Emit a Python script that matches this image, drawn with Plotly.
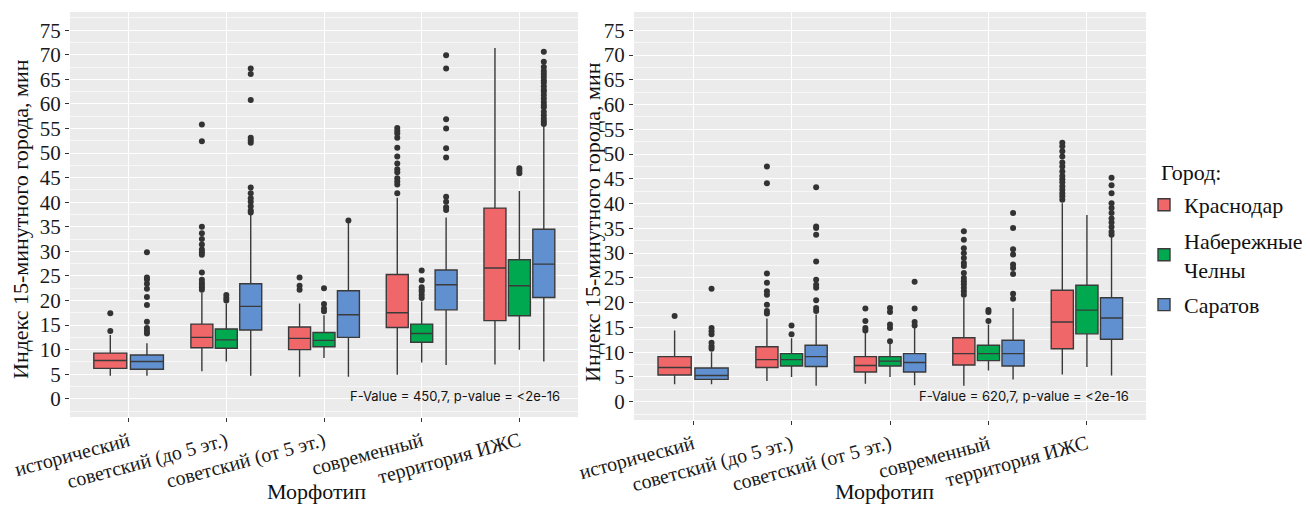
import plotly.graph_objects as go

categories = ["исторический", "советский (до 5 эт.)", "советский (от 5 эт.)", "современный", "территория ИЖС"]
cities = ["Краснодар", "Набережные Челны", "Саратов"]
legend_names = ["Краснодар", "Набережные<br>Челны", "Саратов"]
colors = ["#F0676A", "#00A84F", "#6190D0"]
y_ticks = list(range(0, 80, 5))

# ---------- left panel (stats per category; None = no data) ----------
L_q1 = {
    "Краснодар":        [6.2, 10.4, 10.0, 14.5, 15.9],
    "Набережные Челны": [None, 10.3, 10.6, 11.5, 16.9],
    "Саратов":          [6.0, 14.0, 12.5, 18.1, 20.6],
}
L_med = {
    "Краснодар":        [7.8, 12.5, 12.3, 17.5, 26.6],
    "Набережные Челны": [None, 12.0, 11.9, 13.3, 23.0],
    "Саратов":          [7.6, 18.8, 17.1, 23.2, 27.4],
}
L_q3 = {
    "Краснодар":        [9.3, 15.2, 14.6, 25.3, 38.8],
    "Набережные Челны": [None, 14.2, 13.5, 15.2, 28.3],
    "Саратов":          [8.9, 23.4, 22.0, 26.2, 34.5],
}
L_lo = {
    "Краснодар":        [4.7, 5.6, 4.5, 4.9, 7.0],
    "Набережные Челны": [None, 7.6, 8.3, 7.4, 10.0],
    "Саратов":          [4.7, 4.7, 4.5, 6.9, 7.6],
}
L_hi = {
    "Краснодар":        [13.0, 21.6, 19.4, 40.9, 71.4],
    "Набережные Челны": [None, 19.4, 17.0, 19.8, 42.3],
    "Саратов":          [11.3, 37.4, 35.8, 36.9, 55.4],
}
L_out = {
    "Краснодар": [
        [13.8, 17.4],
        [22.2, 22.7, 23.2, 23.6, 24.2, 25.7, 29.3, 29.8, 30.4, 31.4, 32.5, 33.7, 35.0, 52.4, 55.8],
        [22.2, 23.0, 24.7],
        [41.8, 43.6, 44.2, 44.9, 46.1, 46.7, 47.9, 49.3, 51.1, 53.1, 54.0, 54.5, 55.1],
        [],
    ],
    "Набережные Челны": [
        None,
        [20.0, 20.5, 21.1],
        [17.8, 18.4, 19.3, 22.5],
        [20.5, 21.1, 21.8, 22.2, 22.7, 24.1, 26.1],
        [45.9, 46.4, 46.9],
    ],
    "Саратов": [
        [13.3, 13.8, 14.4, 15.7, 19.1, 20.7, 22.4, 23.4, 24.3, 24.7, 29.8],
        [37.9, 38.3, 39.2, 40.1, 40.8, 41.8, 43.0, 52.1, 52.6, 53.1, 60.8, 66.1, 67.2],
        [36.3],
        [38.4, 39.0, 40.1, 41.1, 49.1, 51.0, 55.0, 56.9, 67.2, 69.9],
        [55.9, 56.4, 57.0, 57.7, 58.4, 59.3, 59.8, 60.4, 61.1, 61.8, 62.5, 62.9, 63.6,
         64.3, 64.8, 65.5, 66.1, 66.7, 67.5, 68.6, 70.6],
    ],
}

# ---------- right panel ----------
R_q1 = {
    "Краснодар":        [5.4, 6.9, 6.0, 7.4, 10.7],
    "Набережные Челны": [None, 7.2, 7.2, 8.3, 13.7],
    "Саратов":          [4.5, 7.1, 6.0, 7.2, 12.6],
}
R_med = {
    "Краснодар":        [6.9, 8.5, 7.3, 9.7, 16.1],
    "Набережные Челны": [None, 8.5, 8.2, 9.7, 18.5],
    "Саратов":          [5.3, 9.1, 7.9, 9.7, 16.9],
}
R_q3 = {
    "Краснодар":        [9.1, 11.1, 9.1, 12.9, 22.5],
    "Набережные Челны": [None, 9.7, 9.1, 11.4, 23.5],
    "Саратов":          [6.8, 11.4, 9.7, 12.4, 21.0],
}
R_lo = {
    "Краснодар":        [3.5, 4.2, 3.6, 3.2, 5.5],
    "Набережные Челны": [None, 5.0, 5.0, 6.3, 7.0],
    "Саратов":          [3.5, 3.2, 3.3, 4.5, 5.3],
}
R_hi = {
    "Краснодар":        [14.4, 16.8, 13.9, 21.0, 40.1],
    "Набережные Челны": [None, 12.8, 11.9, 15.6, 37.7],
    "Саратов":          [10.0, 17.6, 14.9, 18.9, 33.3],
}
R_out = {
    "Краснодар": [
        [17.3],
        [17.8, 18.3, 19.6, 21.6, 22.3, 24.0, 25.9, 44.1, 47.5],
        [14.4, 14.9, 16.3, 18.8],
        [21.6, 22.3, 23.0, 23.7, 24.3, 25.0, 26.0, 27.4, 28.0, 29.0, 30.0, 31.0, 32.7, 34.4],
        [40.8, 41.5, 42.1, 42.8, 43.5, 44.3, 44.9, 45.6, 46.5, 47.5, 48.3, 49.5, 50.6, 51.6, 52.3],
    ],
    "Набережные Челны": [
        None,
        [13.6, 15.4],
        [12.2, 14.9, 15.6, 18.1, 18.9],
        [16.3, 18.1, 18.5],
        [],
    ],
    "Саратов": [
        [10.7, 11.2, 11.9, 13.6, 14.2, 14.9, 22.8],
        [18.3, 18.9, 20.5, 23.0, 23.6, 24.6, 28.3, 33.7, 35.1, 35.4, 43.3],
        [15.4, 16.1, 18.8, 24.2],
        [20.8, 21.8, 25.8, 27.0, 27.7, 29.7, 30.8, 35.1, 38.1],
        [33.7, 34.3, 35.3, 36.2, 37.0, 38.1, 39.1, 40.1, 42.1, 43.7, 45.2],
    ],
}

panels = [
    dict(q1=L_q1, med=L_med, q3=L_q3, lo=L_lo, hi=L_hi, out=L_out, xa="x", ya="y",
         note="F-Value = 450,7, p-value = <2e-16"),
    dict(q1=R_q1, med=R_med, q3=R_q3, lo=R_lo, hi=R_hi, out=R_out, xa="x2", ya="y2",
         note="F-Value = 620,7, p-value = <2e-16"),
]

fig = go.Figure()
for pi, p in enumerate(panels):
    for ci, city in enumerate(cities):
        # group "a": categories where all three cities present; group "b": historical (2 cities)
        for grp, idxs in (("a", [1, 2, 3, 4]), ("b", [0])):
            idxs = [i for i in idxs if p["q1"][city][i] is not None]
            if not idxs:
                continue
            fig.add_trace(go.Box(
                x=[categories[i] for i in idxs],
                q1=[p["q1"][city][i] for i in idxs],
                median=[p["med"][city][i] for i in idxs],
                q3=[p["q3"][city][i] for i in idxs],
                lowerfence=[p["lo"][city][i] for i in idxs],
                upperfence=[p["hi"][city][i] for i in idxs],
                y=[p["out"][city][i] for i in idxs],
                boxpoints="outliers",
                name=legend_names[ci],
                legendgroup=city,
                showlegend=(pi == 0 and grp == "a"),
                alignmentgroup=f"{pi}{grp}",
                offsetgroup=f"{pi}{grp}{ci}",
                fillcolor=colors[ci],
                line=dict(color="#3a3a3a", width=1.4),
                marker=dict(color="#333333", size=6, outliercolor="#333333",
                            line=dict(width=0)),
                whiskerwidth=0,
                xaxis=p["xa"], yaxis=p["ya"],
            ))

W, H = 1310, 505
OFF = 8  # page body margin of the rendered html


def px(x):
    return (x - OFF) / W


def py(y):
    return 1 - (y - OFF) / H


serif = "Liberation Serif"
x_common = dict(
    type="category", categoryorder="array", categoryarray=categories,
    range=[-0.6, 4.6], showgrid=True, gridcolor="white", gridwidth=1.2,
    ticks="outside", ticklen=4, tickcolor="#333333", tickangle=-15,
    tickfont=dict(family=serif, size=20, color="#1a1a1a"),
    zeroline=False, showline=False, fixedrange=True, automargin=False,
)
y_common = dict(
    range=[-3.7, 78.7], tickvals=y_ticks, ticktext=[str(v) for v in y_ticks],
    showgrid=True, gridcolor="white", gridwidth=1.2,
    minor=dict(tickvals=[v + 2.5 for v in range(-5, 80, 5)], showgrid=True,
               gridcolor="#F7F7F7", gridwidth=0.6, ticks=""),
    ticks="outside", ticklen=4, tickcolor="#333333",
    tickfont=dict(family=serif, size=21, color="#1a1a1a"),
    zeroline=False, showline=False, automargin=False,
)

fig.update_layout(
    width=W, height=H,
    margin=dict(l=0, r=0, t=0, b=0, autoexpand=False),
    paper_bgcolor="white", plot_bgcolor="#EBEBEB",
    boxmode="group", boxgap=0.25, boxgroupgap=0.1,
    xaxis=dict(domain=[px(70), px(578)], anchor="y", **x_common),
    xaxis2=dict(domain=[px(634), px(1146)], anchor="y2", **x_common),
    yaxis=dict(domain=[py(417), py(12)], anchor="x", **y_common),
    yaxis2=dict(domain=[py(420), py(12)], anchor="x2", **y_common),
    legend=dict(
        font=dict(family=serif, size=22, color="#111111"),
        x=px(1144), xanchor="left", y=py(184), yanchor="top",
        bgcolor="rgba(0,0,0,0)", tracegroupgap=4,
    ),
    showlegend=True,
)

title_font = dict(family=serif, size=22, color="#111111")
ann_common = dict(xref="paper", yref="paper", showarrow=False,
                  xanchor="center", yanchor="middle")
annotations = [
    dict(text=panels[0]["note"], x=px(455), y=py(396),
         font=dict(family="Inter", size=13, color="#111111"), **ann_common),
    dict(text=panels[1]["note"], x=px(1024), y=py(396),
         font=dict(family="Inter", size=13, color="#111111"), **ann_common),
    dict(text="Морфотип", x=px(316), y=py(491), font=title_font, **ann_common),
    dict(text="Морфотип", x=px(884), y=py(491), font=title_font, **ann_common),
    dict(text="Индекс 15-минутного города, мин", x=px(21), y=py(219), textangle=-90,
         font=dict(family=serif, size=22, color="#111111"), **ann_common),
    dict(text="Индекс 15-минутного города, мин", x=px(593), y=py(222), textangle=-90,
         font=dict(family=serif, size=22, color="#111111"), **ann_common),
    dict(text="Город:", x=px(1191), y=py(172),
         font=dict(family=serif, size=22, color="#111111"), **ann_common),
]
fig.update_layout(annotations=annotations)

fig.write_html("out.html")
